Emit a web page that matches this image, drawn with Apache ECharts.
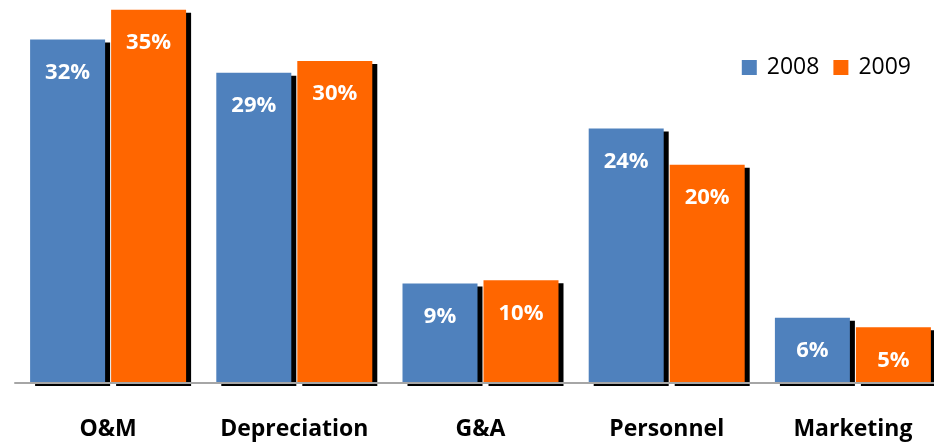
<!DOCTYPE html>
<html><head><meta charset="utf-8">
<script src="https://cdn.jsdelivr.net/npm/echarts@6/dist/echarts.min.js"></script>
<style>html,body{margin:0;padding:0;background:#fff}#c{width:934px;height:445px}</style>
</head><body><div id="c"></div>
<script>
const categories = ['O&M', 'Depreciation', 'G&A', 'Personnel', 'Marketing'];
const values2008 = [32.1, 29.0, 9.3, 23.8, 6.1];
const values2009 = [34.9, 30.1, 9.6, 20.4, 5.2];
const seriesNames = ['2008', '2009'];
const colors = ['#4F81BD', '#FF6600'];

const chart = echarts.init(document.getElementById('c'));
const font = '"Open Sans", sans-serif';
function mk(name, data, color) {
  return {
    name, type: 'bar', data, barWidth: 75, barGap: '8%',
    itemStyle: {
      color,
      shadowColor: '#000', shadowBlur: 0, shadowOffsetX: 5, shadowOffsetY: 3
    },
    label: {
      show: true, position: 'insideTop', distance: 22,
      color: '#fff', fontWeight: 'bold', fontSize: 22, fontFamily: font,
      formatter: p => Math.round(p.value) + '%'
    }
  };
}
chart.setOption({
  animation: false,
  color: colors,
  textStyle: { fontFamily: font },
  legend: {
    data: seriesNames, top: 51, right: 18, itemWidth: 15, itemHeight: 15, itemGap: 14,
    icon: 'rect',
    textStyle: { fontSize: 23, color: '#000', fontFamily: font, padding: [0, 0, 0, 5] }
  },
  grid: { left: 15, width: 931, top: 0, bottom: 62, containLabel: false, outerBoundsMode: 'none' },
  xAxis: {
    type: 'category', data: categories, z: 3,
    axisLine: { lineStyle: { color: '#A6A6A6', width: 2 } },
    axisTick: { show: false },
    axisLabel: { color: '#000', fontWeight: 'bold', fontSize: 23, margin: 35, fontFamily: font, interval: 0 }
  },
  yAxis: { type: 'value', min: 0, max: 35.8, show: false, splitLine: { show: false } },
  series: [mk(seriesNames[0], values2008, colors[0]), mk(seriesNames[1], values2009, colors[1])]
});
</script></body></html>
